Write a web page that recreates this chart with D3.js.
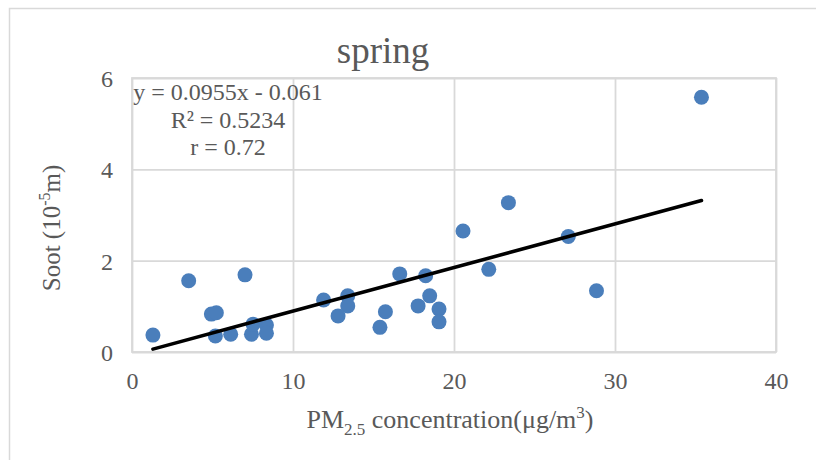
<!DOCTYPE html>
<html>
<head>
<meta charset="utf-8">
<script src="https://cdn.jsdelivr.net/npm/d3@7"></script>
<style>
  html, body { margin: 0; padding: 0; background: #fff; }
  svg { display: block; font-family: "Liberation Serif", "Times New Roman", serif; }
  svg text { font-family: "Liberation Serif", "Times New Roman", serif; }
</style>
</head>
<body>
<svg id="chart" width="816" height="460"></svg>
<script>
// PM2.5 concentration (µg/m³) and soot (10⁻⁵ m) for each spring sample
const pm25 = [1.30, 3.52, 4.93, 5.24, 5.18, 6.13, 7.02, 7.42, 7.52, 8.35, 8.35,
              11.9, 13.4, 13.4, 12.8, 15.4, 15.74, 16.63, 17.77, 18.24, 18.49,
              19.07, 19.07, 20.56, 22.16, 23.38, 27.1, 28.85, 35.37];
const soot = [0.37, 1.56, 0.83, 0.86, 0.35, 0.39, 1.69, 0.39, 0.61, 0.59, 0.41,
              1.14, 1.23, 1.01, 0.79, 0.54, 0.88, 1.71, 1.01, 1.67, 1.23,
              0.94, 0.66, 2.65, 1.81, 3.27, 2.53, 1.34, 5.58];

// Linear fit shown on the chart
const slope = 0.0955;
const intercept = -0.061;
const fitLines = ["y = 0.0955x - 0.061", "R² = 0.5234", "r = 0.72"];

const xTicks = [0, 10, 20, 30, 40];
const yTicks = [0, 2, 4, 6];

const svg = d3.select("#chart");
const textColor = "#595959";
const gridColor = "#d9d9d9";

const plot = { left: 132, right: 776, top: 78, bottom: 352 };
const x = d3.scaleLinear().domain([0, 40]).range([plot.left, plot.right]);
const y = d3.scaleLinear().domain([0, 6]).range([plot.bottom, plot.top]);

// outer chart frame
svg.append("rect")
  .attr("x", 9.5).attr("y", 8.5)
  .attr("width", 830).attr("height", 470)
  .attr("fill", "#fff").attr("stroke", gridColor).attr("stroke-width", 1.5);

// gridlines
const gx = svg.append("g").attr("transform", `translate(0,${plot.bottom})`)
  .call(d3.axisBottom(x).tickValues(xTicks).tickSize(-(plot.bottom - plot.top)).tickFormat(""));
const gy = svg.append("g").attr("transform", `translate(${plot.left},0)`)
  .call(d3.axisLeft(y).tickValues(yTicks).tickSize(-(plot.right - plot.left)).tickFormat(""));
[gx, gy].forEach(g => {
  g.select(".domain").remove();
  g.selectAll(".tick line").attr("stroke", gridColor).attr("stroke-width", 1.8);
});

// plot area border
svg.append("rect")
  .attr("x", plot.left).attr("y", plot.top)
  .attr("width", plot.right - plot.left).attr("height", plot.bottom - plot.top)
  .attr("fill", "none").attr("stroke", gridColor).attr("stroke-width", 1.8);

// tick labels
const xl = svg.append("g").attr("transform", `translate(0,${plot.bottom + 29})`)
  .call(d3.axisBottom(x).tickValues(xTicks).tickFormat(d3.format("d")).tickSize(0).tickPadding(0));
const yl = svg.append("g").attr("transform", `translate(${plot.left - 19},0)`)
  .call(d3.axisLeft(y).tickValues(yTicks).tickFormat(d3.format("d")).tickSize(0).tickPadding(0));
[xl, yl].forEach(g => {
  g.attr("font-family", null).attr("font-size", 24);
  g.select(".domain").remove();
  g.selectAll("text").attr("fill", textColor).attr("dy", "0.35em");
});

// points
svg.append("g").selectAll("circle")
  .data(pm25.map((v, i) => [v, soot[i]]))
  .join("circle")
  .attr("cx", d => x(d[0]))
  .attr("cy", d => y(d[1]))
  .attr("r", 7.5)
  .attr("fill", "#4a7ebb");

// trend line across the observed PM2.5 range
const [xmin, xmax] = d3.extent(pm25);
svg.append("line")
  .attr("x1", x(xmin)).attr("y1", y(slope * xmin + intercept))
  .attr("x2", x(xmax)).attr("y2", y(slope * xmax + intercept))
  .attr("stroke", "#000").attr("stroke-width", 3.6).attr("stroke-linecap", "round");

// fit equation block
svg.append("g").selectAll("text")
  .data(fitLines)
  .join("text")
  .attr("x", 228)
  .attr("y", (d, i) => 92 + i * 27.5)
  .attr("dy", "0.35em")
  .attr("text-anchor", "middle")
  .attr("font-size", 24)
  .attr("fill", textColor)
  .text(d => d);

// title
svg.append("text")
  .attr("x", 383).attr("y", 63)
  .attr("text-anchor", "middle")
  .attr("font-size", 37)
  .attr("fill", textColor)
  .text("spring");

// x axis title with subscript and superscript
const xt = svg.append("text")
  .attr("x", 450).attr("y", 428)
  .attr("text-anchor", "middle")
  .attr("font-size", 26)
  .attr("fill", textColor);
xt.append("tspan").text("PM");
xt.append("tspan").attr("font-size", 17).attr("dy", 7).text("2.5");
xt.append("tspan").attr("dy", -7).text(" concentration(μg/m");
xt.append("tspan").attr("font-size", 17).attr("dy", -10).text("3");
xt.append("tspan").attr("dy", 10).text(")");

// y axis title
const yt = svg.append("text")
  .attr("transform", "translate(60,228) rotate(-90)")
  .attr("text-anchor", "middle")
  .attr("font-size", 25)
  .attr("fill", textColor);
yt.append("tspan").text("Soot (10");
yt.append("tspan").attr("font-size", 16).attr("dy", -10).text("-5");
yt.append("tspan").attr("dy", 10).text("m)");
</script>
</body>
</html>
